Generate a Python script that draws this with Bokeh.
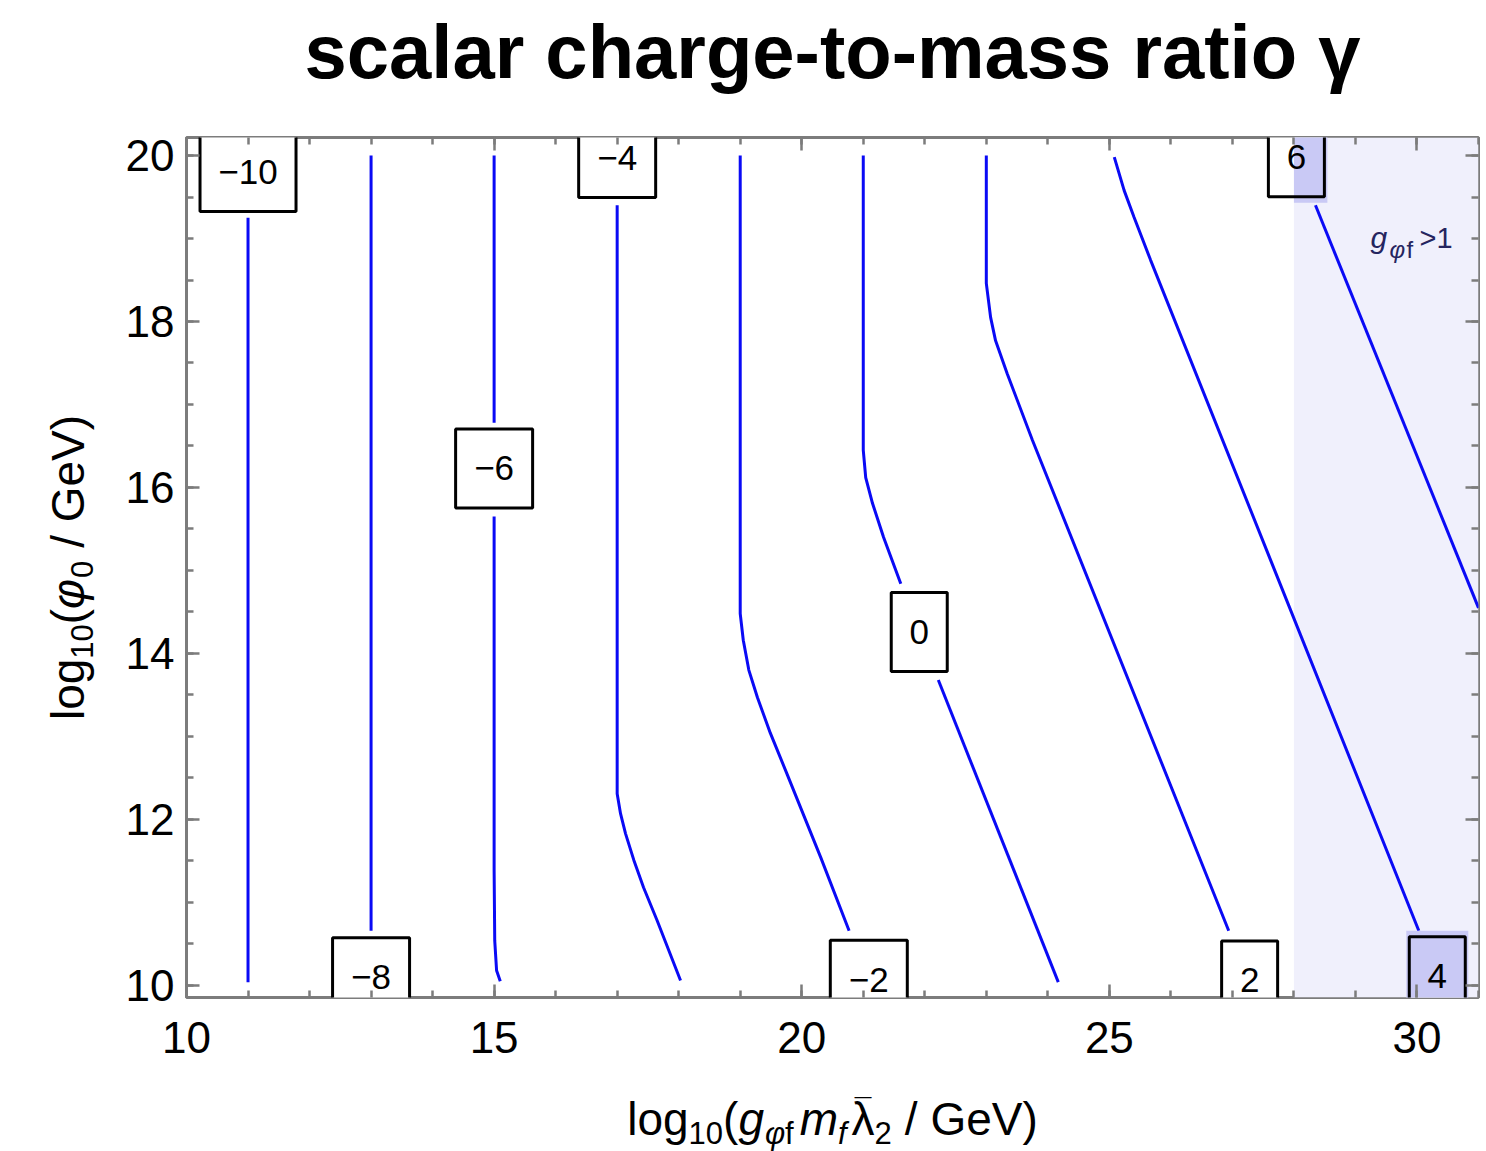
import math
from bokeh.plotting import figure
from bokeh.layouts import row, column
from bokeh.models import ColumnDataSource, FixedTicker, LinearAxis, Label
from bokeh.core.properties import value
from bokeh.embed import file_html
from bokeh.resources import INLINE

# ---------------- data ----------------
# contour lines of gamma (segments; gaps are where the labels sit)
c_m10_x = [11.0, 11.0]
c_m10_y = [10.04, 19.25]
c_m8_x = [13.0, 13.0]
c_m8_y = [10.66, 20.0]
c_m6a_x = [15.0, 15.0]
c_m6a_y = [20.0, 16.78]
c_m6b_x = [15.0, 15.0, 15.01, 15.04, 15.10]
c_m6b_y = [15.65, 11.39, 10.54, 10.18, 10.05]
c_m4_x = [17.0, 17.0, 17.055, 17.136, 17.271, 17.429, 17.651, 18.03]
c_m4_y = [19.40, 12.31, 12.07, 11.83, 11.51, 11.18, 10.78, 10.06]
c_m2_x = [19.0, 19.0, 19.05, 19.14, 19.28, 19.49, 19.76, 20.31, 20.77]
c_m2_y = [20.0, 14.48, 14.16, 13.80, 13.47, 13.04, 12.55, 11.54, 10.66]
c_0a_x = [21.0, 21.0, 21.04, 21.15, 21.33, 21.61]
c_0a_y = [20.0, 16.45, 16.12, 15.81, 15.40, 14.84]
c_0b_x = [22.22, 24.17]
c_0b_y = [13.68, 10.04]
c_2_x = [23.0, 23.0, 23.07, 23.15, 23.34, 23.75, 26.94]
c_2_y = [20.0, 18.46, 18.05, 17.77, 17.37, 16.57, 10.66]
c_4_x = [25.08, 25.24, 25.40, 25.67, 30.03]
c_4_y = [19.98, 19.58, 19.26, 18.74, 10.66]
c_6_x = [28.35, 31.0]
c_6_y = [19.40, 14.55]

# contour labels
lab_text = ["\u221210", "\u22128", "\u22126", "\u22124", "\u22122", "0", "2", "4", "6"]
lab_x = [11.0, 13.0, 15.0, 17.0, 21.09, 21.91, 27.28, 30.33, 28.04]
lab_y = [19.80, 10.10, 16.23, 19.97, 10.07, 14.26, 10.06, 10.11, 19.98]

# shaded region g_phi_f > 1
shade_x = [28.0, 31.0]

# axes
x_major = [10, 15, 20, 25, 30]
x_minor = list(range(10, 32))
y_major = [10, 12, 14, 16, 18, 20]
y_minor = [10 + 0.5 * i for i in range(21)]

title_text = "scalar charge-to-mass ratio \u03b3"

# ---------------- layout (canvas pixels) ----------------
W, H = 1486, 1151
LEFT_W = 110          # strip for the y label
TITLE_H = 100         # strip for the title
XLAB_H = 60           # strip for the x label
FL, FR, FT, FB = 186, 1478, 137, 997   # frame edges in canvas pixels
X0, X1 = 10.0, 31.0
Y0, Y1 = 9.855, 20.217
ppx = (FR - FL) / (X1 - X0)
ppy = (FB - FT) / (Y1 - Y0)
MID = 0.36            # distance baseline -> text middle, in em

FONT = "Liberation Sans"
TICK = "#7c7c7c"
BLUE = "#0a0af5"

MAIN_W = W - LEFT_W
MAIN_H = H - TITLE_H - XLAB_H

p = figure(width=MAIN_W, height=MAIN_H, x_range=(X0, X1), y_range=(Y0, Y1),
           output_backend="svg", toolbar_location=None,
           min_border_left=FL - LEFT_W, min_border_right=W - FR,
           min_border_top=FT - TITLE_H, min_border_bottom=(TITLE_H + MAIN_H) - FB,
           background_fill_color="white", border_fill_color="white")
p.title.visible = False
p.grid.visible = False
p.outline_line_color = TICK
p.outline_line_width = 3

xt = FixedTicker(ticks=x_major, minor_ticks=x_minor)
yt = FixedTicker(ticks=y_major, minor_ticks=y_minor)
bottom_ax = p.below[0]
left_ax = p.left[0]
bottom_ax.ticker = xt
left_ax.ticker = yt
top_ax = LinearAxis(ticker=xt)
right_ax = LinearAxis(ticker=yt)
p.add_layout(top_ax, "above")
p.add_layout(right_ax, "right")
for ax in (bottom_ax, left_ax, top_ax, right_ax):
    ax.axis_line_color = None
    ax.major_tick_in = 13
    ax.major_tick_out = 0
    ax.minor_tick_in = 7
    ax.minor_tick_out = 0
    ax.major_tick_line_color = TICK
    ax.minor_tick_line_color = TICK
    ax.major_tick_line_width = 2.5
    ax.minor_tick_line_width = 2.5
    ax.major_label_text_font = FONT
    ax.major_label_text_font_size = "44px"
    ax.major_label_text_color = "black"
bottom_ax.major_label_standoff = 24
left_ax.major_label_standoff = 12
for ax in (top_ax, right_ax):
    ax.major_label_text_font_size = "0px"
    ax.major_label_standoff = 0
    ax.major_label_text_color = None

# shaded region
p.quad(left=[shade_x[0]], right=[shade_x[1]], bottom=[Y0], top=[Y1],
       fill_color="#f0f0fc", line_color=None)

# contour lines
xs = [c_m10_x, c_m8_x, c_m6a_x, c_m6b_x, c_m4_x, c_m2_x, c_0a_x, c_0b_x, c_2_x, c_4_x, c_6_x]
ys = [c_m10_y, c_m8_y, c_m6a_y, c_m6b_y, c_m4_y, c_m2_y, c_0a_y, c_0b_y, c_2_y, c_4_y, c_6_y]
p.multi_line(xs=xs, ys=ys, line_color=BLUE, line_width=3)

# label boxes
box_w_by_len = {1: 56, 2: 77, 3: 96}
BOX_H = 79
box_w = [box_w_by_len[len(t)] for t in lab_text]
src = ColumnDataSource(dict(x=lab_x, y=lab_y, text=lab_text, w=box_w))
p.rect(x="x", y="y", width="w", height=BOX_H, width_units="screen", height_units="screen",
       source=src, fill_color="white", line_color=None)

# darker lavender where label boxes fall into the shaded region
ol, orr, ob, ot = [], [], [], []
for t, x, y, w in zip(lab_text, lab_x, lab_y, box_w):
    right = x + (w / 2 + 3) / ppx
    if right > shade_x[0]:
        ol.append(max(shade_x[0], x - (w / 2 + 3) / ppx))
        orr.append(right)
        ob.append(y - (BOX_H / 2 + 6) / ppy)
        ot.append(y + (BOX_H / 2 + 6) / ppy)
p.quad(left=ol, right=orr, bottom=ob, top=ot, fill_color="#c9c9f5", line_color=None)

p.rect(x="x", y="y", width="w", height=BOX_H, width_units="screen", height_units="screen",
       source=src, fill_color=None, line_color="black", line_width=3)
p.text(x="x", y="y", text="text", source=src, text_align="center", text_baseline="middle",
       text_font=value(FONT), text_font_size="35px", text_color="black")


def dx(px):
    return X0 + (px - FL) / ppx


def dy(py):
    return Y1 - (py - FT) / ppy


# region label g_phi_f > 1 (inside the frame); py is the baseline
NAVY = "#25255f"
for t, s, st, px, py in [("g", 30, "italic", 1370, 248), ("\u03c6", 24, "italic", 1389, 258),
                         ("f", 24, "normal", 1406, 258), (">1", 29, "normal", 1419, 248)]:
    p.add_layout(Label(x=dx(px), y=dy(py - MID * s), text=t, text_font=FONT,
                       text_font_size=f"{s}px", text_font_style=st, text_align="left",
                       text_baseline="middle", text_color=NAVY))


# ---------------- text strips around the plot ----------------
def strip(w, h, xr):
    f = figure(width=w, height=h, x_range=xr, y_range=(0, h), min_border=0,
               toolbar_location=None, output_backend="svg", x_axis_type=None,
               y_axis_type=None, outline_line_color=None,
               background_fill_color="white", border_fill_color="white")
    f.title.visible = False
    return f


ADV = {'l': .222, 'o': .556, 'g': .556, '1': .556, '0': .556, '2': .556, '(': .333,
       ')': .333, '\u03c6': .648, '/': .278, ' ': .278, 'G': .778, 'e': .556,
       'V': .667, 'm': .833, 'f': .278, '\u03bb': .5, '>': .584}


def piece_w(text, size):
    return sum(ADV.get(c, .556) for c in text) * size


def put(f, x, y, t, size, style="normal", angle=0.0, align="left", color="black"):
    f.text(x=[x], y=[y], text=[t], angle=angle, text_font=value(FONT),
           text_font_size=f"{size}px", text_font_style=style, text_align=align,
           text_baseline="middle", text_color=color)


# The strips in the column get their frames aligned with the plot frame,
# so their x coordinate is the canvas pixel from FL to FR.
# title strip: baseline at canvas y 78
tf = strip(MAIN_W, TITLE_H, (FL, FR))
put(tf, (FL + FR) / 2, TITLE_H - (78 - MID * 76), title_text, 76, "bold", align="center")

# x label strip: log10(g_phi_f m_f lambda-bar_2 / GeV); baseline at canvas y 1135
A, S = 46, 31
xf = strip(MAIN_W, XLAB_H, (FL, FR))
xl_pieces = [("log", A, "normal", 0, 0), ("10", S, "normal", 9, 0), ("(", A, "normal", 0, 0),
             ("g", A, "italic", 0, 1), ("\u03c6", S, "italic", 9, 0), ("f", S, "normal", 9, 6),
             ("m", A, "italic", 0, 0), ("f", S, "italic", 9, 5),
             ("\u03bb", A, "normal", 0, 0), ("2", S, "normal", 9, 13),
             ("/ GeV)", A, "normal", 0, 0)]
total = sum(piece_w(t, s) + g for t, s, st, sh, g in xl_pieces)
cur = (FL + FR) / 2 - total / 2
base = 1135
for t, s, st, sh, g in xl_pieces:
    w = piece_w(t, s)
    put(xf, cur, H - (base + sh - MID * s), t, s, st)
    if t == "\u03bb":
        put(xf, cur + w / 2, H - (1119 - MID * 30), "\u00af", 30, align="center")
    cur += w + g

# y label strip: log10(phi_0 / GeV), rotated; baseline at canvas x 83
yf = strip(LEFT_W, H, (0, LEFT_W))
yl_pieces = [("log", A, "normal", 0, 0), ("10", S, "normal", 9, 0), ("(", A, "normal", 0, 0),
             ("\u03c6", A, "italic", 0, 1), ("0", S, "normal", 9, 13),
             ("/ GeV)", A, "normal", 0, 0)]
total = sum(piece_w(t, s) + g for t, s, st, sh, g in yl_pieces)
cur = (FT + FB) / 2 + total / 2
base = 84
for t, s, st, sh, g in yl_pieces:
    w = piece_w(t, s)
    put(yf, base + sh - MID * s, H - cur, t, s, st, angle=math.pi / 2)
    cur -= w + g

layout = row(yf, column(tf, p, xf))
open("out.html", "w").write(file_html(layout, INLINE))
